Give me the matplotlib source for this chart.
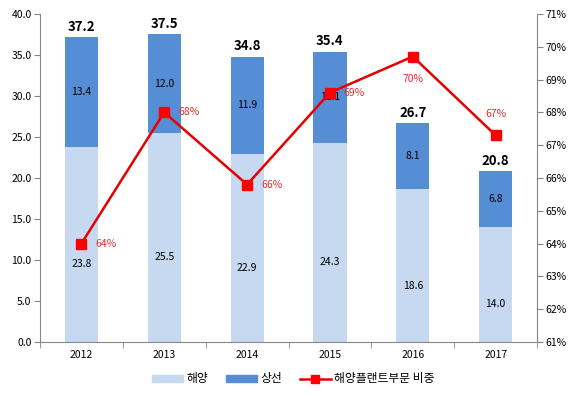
import matplotlib
matplotlib.use("Agg")
import matplotlib.pyplot as plt
import numpy as np
from matplotlib.lines import Line2D
from matplotlib.patches import Patch

plt.rcParams['font.family'] = ['Noto Sans CJK KR', 'DejaVu Sans']

years = ["2012", "2013", "2014", "2015", "2016", "2017"]
offshore = [23.8, 25.5, 22.9, 24.3, 18.6, 14.0]
merchant = [13.4, 12.0, 11.9, 11.1, 8.1, 6.8]
totals = [37.2, 37.5, 34.8, 35.4, 26.7, 20.8]
share = [64.0, 68.0, 65.8, 68.6, 69.7, 67.3]
share_labels = ["64%", "68%", "66%", "69%", "70%", "67%"]

light = "#C6D9F1"
dark = "#558ED5"
red = "#E60000"
gray = "#868686"

fig = plt.figure(figsize=(5.87, 3.96), dpi=100)
ax = fig.add_axes([0.068, 0.136, 0.847, 0.829])
x = np.arange(len(years))
w = 0.4
ax.bar(x, offshore, w, color=light, zorder=2)
ax.bar(x, merchant, w, bottom=offshore, color=dark, zorder=2)

for i in range(len(years)):
    ax.text(x[i], offshore[i] / 2 - 2.4, f"{offshore[i]:.1f}", ha='center', va='center',
            fontsize=7.5, color='black', zorder=5)
    ax.text(x[i], offshore[i] + merchant[i] / 2, f"{merchant[i]:.1f}", ha='center', va='center',
            fontsize=7.5, color='black', zorder=5)
    ax.text(x[i], totals[i] + 0.4, f"{totals[i]:.1f}", ha='center', va='bottom',
            fontsize=9.5, fontweight='bold', color='black', zorder=5)

ax.set_xlim(-0.5, len(years) - 0.5)
ax.set_ylim(0, 40)
ax.set_yticks(np.arange(0, 40.1, 5))
ax.set_yticklabels([f"{v:.1f}" for v in np.arange(0, 40.1, 5)], fontsize=7.5)
ax.set_xticks(x)
ax.set_xticklabels(years, fontsize=7.5)
ax.set_xticks(np.arange(-0.5, len(years)), minor=True)
ax.tick_params(axis='x', which='major', length=0, pad=6)
ax.tick_params(axis='x', which='minor', length=4, color=gray)
ax.tick_params(axis='y', length=4, color=gray, pad=2)
for s in ['top', 'right']:
    ax.spines[s].set_visible(False)
for s in ['left', 'bottom']:
    ax.spines[s].set_color(gray)

ax2 = ax.twinx()
ax2.set_ylim(61, 71)
ax2.set_yticks(np.arange(61, 71.1, 1))
ax2.set_yticklabels([f"{int(v)}%" for v in np.arange(61, 71.1, 1)], fontsize=7.5)
ax2.tick_params(axis='y', length=4, color=gray, pad=2)
for s in ['top', 'left', 'bottom']:
    ax2.spines[s].set_visible(False)
ax2.spines['right'].set_color(gray)
ax2.plot(x, share, color=red, lw=1.8, marker='s', ms=7, mfc='#FF0000', mec='#FF0000', zorder=4)

offsets = [(10, 0, 'left'), (10, 0, 'left'), (10, 0, 'left'),
           (10, 0, 'left'), (0, -16, 'center'), (0, 15, 'center')]
for i, (dx, dy, ha) in enumerate(offsets):
    ax2.annotate(share_labels[i], (x[i], share[i]), xytext=(dx, dy),
                 textcoords='offset points', ha=ha, va='center', fontsize=7.5, color='#E03030')

handles = [Patch(color=light, label="해양"), Patch(color=dark, label="상선"),
           Line2D([0], [0], color=red, lw=1.8, marker='s', ms=6, mfc='#FF0000', mec='#FF0000',
                  label="해양플랜트부문 비중")]
fig.legend(handles=handles, loc='center', bbox_to_anchor=(0.5, 0.043), ncol=3, frameon=False,
           fontsize=8.5, handlelength=2.6, handleheight=0.5, columnspacing=1.5, handletextpad=0.3)

fig.savefig("out.png", dpi=100)
